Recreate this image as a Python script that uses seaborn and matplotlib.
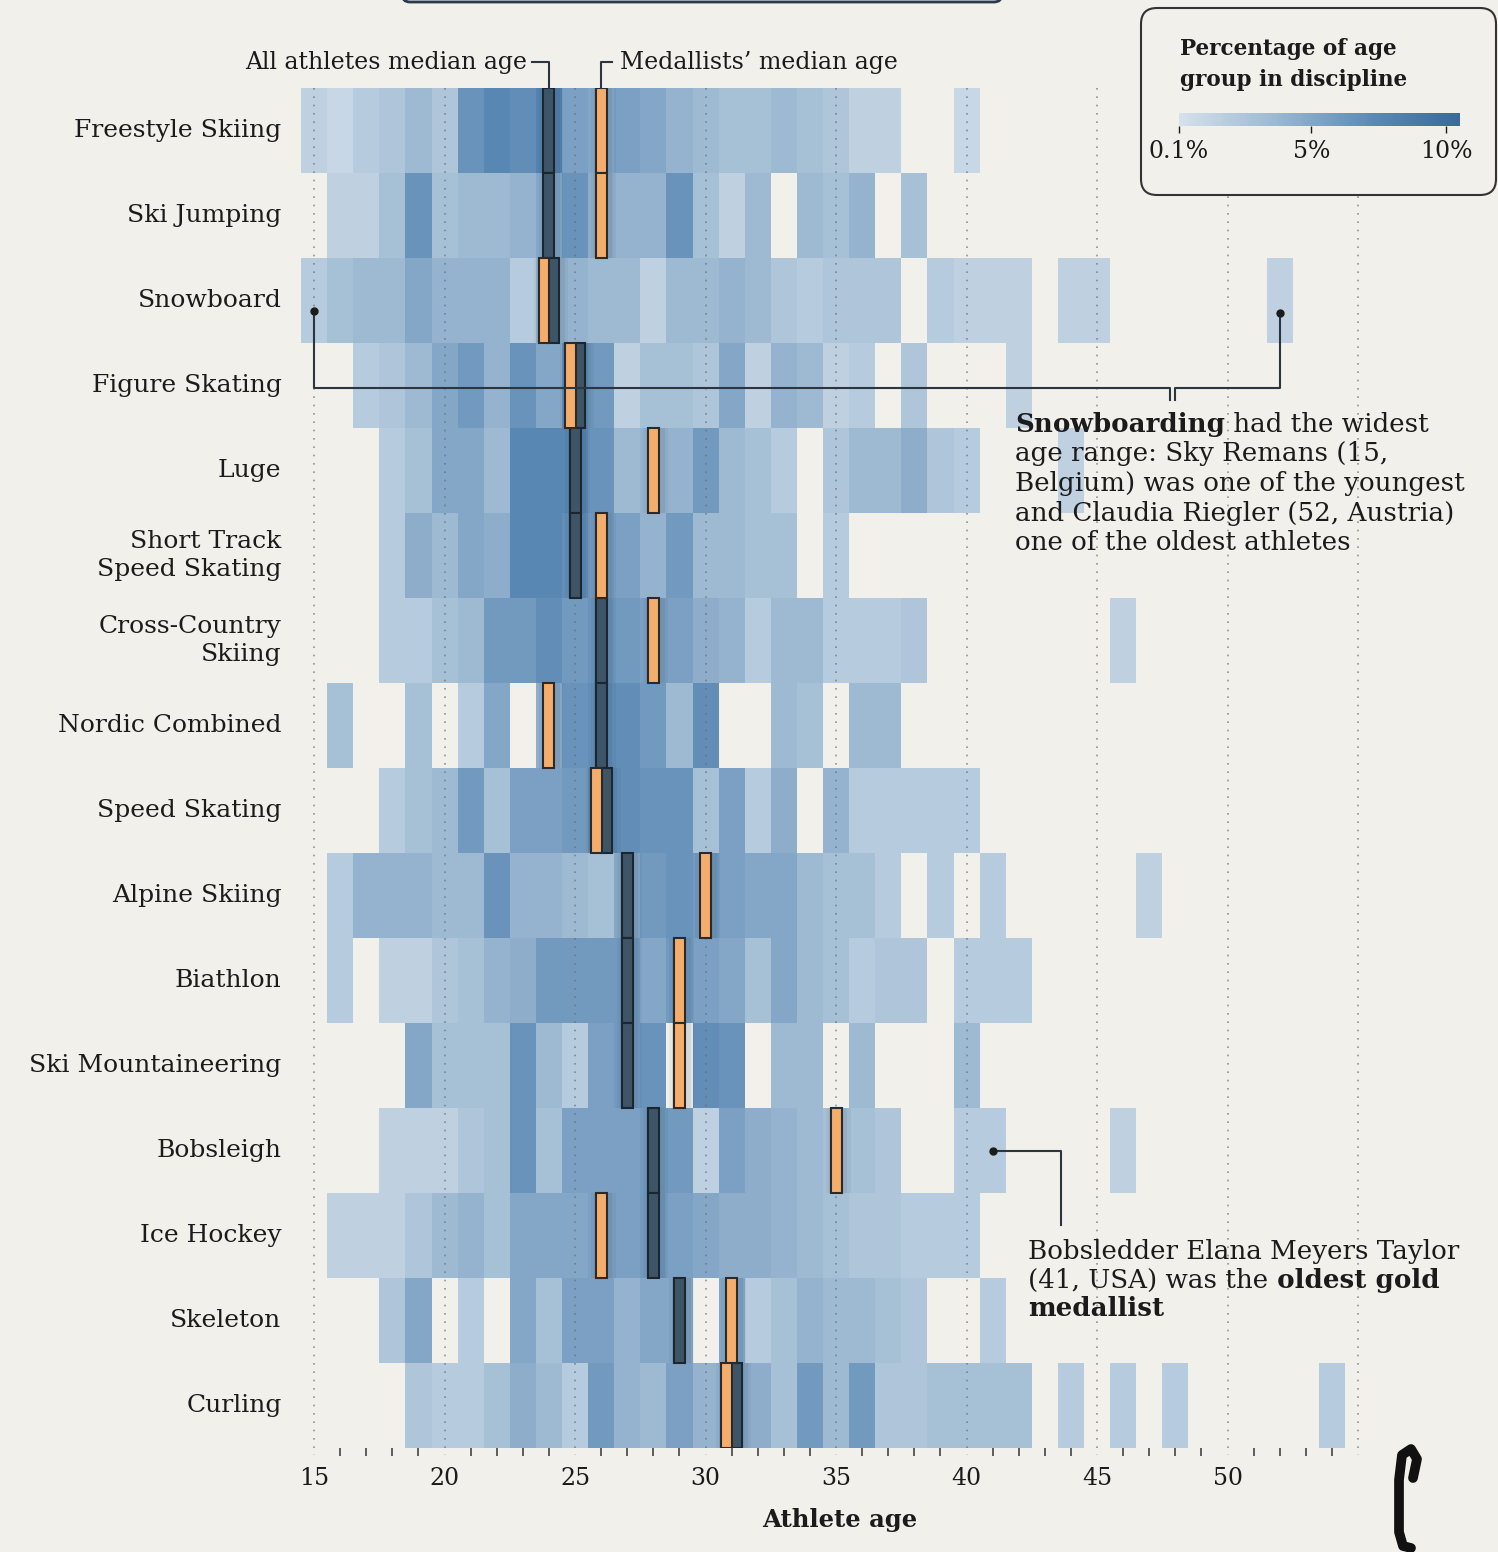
import numpy as np
import pandas as pd
import matplotlib.pyplot as plt
import seaborn as sns
import matplotlib.cm as cm
from matplotlib.colors import LinearSegmentedColormap, Normalize
from matplotlib.patches import FancyBboxPatch

# ---- data ----
disciplines = ["Freestyle Skiing", "Ski Jumping", "Snowboard", "Figure Skating", "Luge",
               "Short Track\nSpeed Skating", "Cross-Country\nSkiing", "Nordic Combined",
               "Speed Skating", "Alpine Skiing", "Biathlon", "Ski Mountaineering",
               "Bobsleigh", "Ice Hockey", "Skeleton", "Curling"]
ages = list(range(15, 55))

# percentage of athletes of each age per discipline (ages 15..54, 0 = nobody)
freestyle = [1.5, 1, 2, 2.5, 3.5, 2.5, 6.5, 7.5, 7, 8, 5.5, 5, 5.5, 5, 4, 3.5, 3, 3, 3.5, 3,
             2.5, 1.5, 1.5, 0, 0, 1, 0, 0, 0, 0, 0, 0, 0, 0, 0, 0, 0, 0, 0, 0]
ski_jumping = [0, 1.5, 1.5, 3, 6.5, 3, 3.5, 3.5, 4, 5, 6.5, 4.5, 4, 4, 6.5, 3, 1.5, 3.5, 0, 3.5,
               3, 4, 0, 3, 0, 0, 0, 0, 0, 0, 0, 0, 0, 0, 0, 0, 0, 0, 0, 0]
snowboard = [2, 3, 3.5, 3.5, 5, 4, 4, 4, 2, 4, 4, 3.5, 3.5, 1.5, 3.5, 3.5, 4, 3.5, 2.5, 2,
             2.5, 2.5, 2.5, 0, 2, 1.5, 1.5, 1.5, 0, 1.5, 1.5, 0, 0, 0, 0, 0, 0, 1.5, 0, 0]
figure_skating = [0, 0, 2, 2.5, 3.5, 5, 6, 4, 6.5, 5, 7, 6, 1.5, 3, 3, 2.5, 5, 1.5, 4, 3.5,
                  1.5, 2, 0, 2.5, 0, 0, 0, 1.5, 0, 0, 0, 0, 0, 0, 0, 0, 0, 0, 0, 0]
luge = [0, 0, 0, 2, 3, 5, 5, 3.5, 7.5, 7.5, 7.5, 6.5, 3.5, 4, 4, 6, 3.5, 3, 2, 0,
        2.5, 3.5, 3.5, 4.5, 2.5, 2, 0, 0, 0, 1.5, 0, 0, 0, 0, 0, 0, 0, 0, 0, 0]
short_track = [0, 0, 0, 2, 4.5, 3.5, 5, 4.5, 7.5, 7.5, 7, 6, 5.5, 4, 6, 3.5, 3.5, 3, 3, 0,
               2, 0, 0, 0, 0, 0, 0, 0, 0, 0, 0, 0, 0, 0, 0, 0, 0, 0, 0, 0]
cross_country = [0, 0, 0, 2, 2, 3, 3.5, 6, 6, 7, 6, 6.5, 6, 5.5, 5.5, 4.5, 4, 2, 3.5, 3.5,
                 2, 2, 2, 2.5, 0, 0, 0, 0, 0, 0, 0, 1.5, 0, 0, 0, 0, 0, 0, 0, 0]
nordic_combined = [0, 3, 0, 0, 3, 0, 2, 5, 0, 4.5, 6.5, 7, 7, 6, 3.5, 7, 0, 0, 3.5, 3,
                   0, 3.5, 3.5, 0, 0, 0, 0, 0, 0, 0, 0, 0, 0, 0, 0, 0, 0, 0, 0, 0]
speed_skating = [0, 0, 0, 2, 3, 3.5, 6, 3, 5.5, 5.5, 6, 7, 7, 6.5, 6.5, 3, 5.5, 2, 4.5, 0,
                 4, 2, 2, 2, 2, 2, 0, 0, 0, 0, 0, 0, 0, 0, 0, 0, 0, 0, 0, 0]
alpine = [0, 2, 4, 4, 4, 3.5, 3.5, 6.5, 4, 4, 3.5, 3, 5, 6, 6.5, 6, 5.5, 5, 5, 3.5,
          3, 3, 2, 0, 2, 0, 2, 0, 0, 0, 0, 0, 1.5, 0, 0, 0, 0, 0, 0, 0]
biathlon = [0, 2, 0, 1.5, 1.5, 2.5, 3, 4, 4.5, 6, 6, 6, 6, 5, 6, 5.5, 5, 3, 5, 3.5,
            3, 2, 2.5, 2.5, 0, 2, 2, 2, 0, 0, 0, 0, 0, 0, 0, 0, 0, 0, 0, 0]
ski_mountaineering = [0, 0, 0, 0, 5, 3, 3, 3, 6.5, 3.5, 2, 5.5, 6, 6.5, 0, 7, 6.5, 0, 3.5, 3.5,
                      0, 3.5, 0, 0, 0, 3.5, 0, 0, 0, 0, 0, 0, 0, 0, 0, 0, 0, 0, 0, 0]
bobsleigh = [0, 0, 0, 1.5, 1.5, 1.5, 2.5, 3, 6.5, 3, 5.5, 5.5, 5.5, 6, 6, 1.5, 5.5, 4.5, 4, 3.5,
             3, 3, 2.5, 0, 0, 2, 2, 0, 0, 0, 0, 1.5, 0, 0, 0, 0, 0, 0, 0, 0]
ice_hockey = [0, 1.5, 1.5, 1.5, 2.5, 3.5, 4, 3, 5, 5, 5, 5.5, 5.5, 6, 5.5, 5, 4.5, 4.5, 4, 3.5,
              3, 2.5, 2.5, 2, 2, 2, 0, 0, 0, 0, 0, 0, 0, 0, 0, 0, 0, 0, 0, 0]
skeleton = [0, 0, 0, 2.5, 5, 0, 2, 0, 5, 3, 5.5, 5.5, 4, 5, 5, 0, 5, 2, 3, 4,
            3.5, 3.5, 3, 2.5, 0, 0, 2, 0, 0, 0, 0, 0, 0, 0, 0, 0, 0, 0, 0, 0]
curling = [0, 0, 0, 0, 2.5, 2, 2, 3, 4.5, 3.5, 2, 6, 4, 3.5, 5.5, 4, 5, 4.5, 3, 6,
           3.5, 6, 2.5, 2.5, 3, 3, 3, 3, 0, 2, 0, 2, 0, 2, 0, 0, 0, 0, 0, 2]

median_all = [24, 24, 24, 25, 25, 25, 26, 26, 26, 27, 27, 27, 28, 28, 29, 31]
median_medal = [26, 26, 24, 25, 28, 26, 28, 24, 26, 30, 29, 29, 35, 26, 31, 31]

rows = [freestyle, ski_jumping, snowboard, figure_skating, luge, short_track, cross_country,
        nordic_combined, speed_skating, alpine, biathlon, ski_mountaineering, bobsleigh,
        ice_hockey, skeleton, curling]
df = pd.DataFrame(rows, index=disciplines, columns=ages).replace(0, np.nan)

# ---- style ----
BG = "#f2f0eb"
INK = "#1b1b1b"
DARK = "#3e5568"
EDGE = "#1b2631"
ORANGE = "#f5ad6c"
cmap = LinearSegmentedColormap.from_list(
    "blues", [(0, "#d6e1eb"), (0.35, "#9ab7d1"), (0.7, "#5a88b4"), (1, "#3a6a99")])
VMIN, VMAX = 0.1, 10.5

plt.rcParams["font.family"] = ["DejaVu Serif"]

W, H = 1498, 1552
fig = plt.figure(figsize=(W / 100, H / 100), dpi=100, facecolor=BG)

# heatmap axes: one year = 26.1 px, one row = 85 px
ax = fig.add_axes([301 / W, 1 - 1448 / H, (W - 301) / W, 1360 / H])
ax.set_facecolor(BG)
sns.heatmap(df, ax=ax, cmap=cmap, vmin=VMIN, vmax=VMAX, cbar=False, linewidths=0)
ax.set_xlim(0, (W - 301) / 26.1)
ax.set_ylim(len(disciplines), 0)
ax.set_xlabel("")
ax.set_ylabel("")
for s in ax.spines.values():
    s.set_visible(False)

# dotted guide lines every 5 years
grid_ages = list(range(15, 60, 5))
ax.vlines([a - 14.5 for a in grid_ages], 0, 16.08, colors="#6a6a6a",
          linestyles=(0, (1, 4)), lw=1.2, alpha=0.7, zorder=3, clip_on=False)

# median markers
n = len(disciplines)
x_all = np.array(median_all, float) - 14.5
x_med = np.array(median_medal, float) - 14.5
same = np.array(median_all) == np.array(median_medal)
x_all = x_all + np.where(same, 0.19, 0)
x_med = x_med - np.where(same, 0.19, 0)
for xs in (x_all, x_med):
    for w, al in ((0.95, 0.05), (0.7, 0.08)):
        ax.bar(xs + 0.08, 1, bottom=np.arange(n), width=w, color="#1d3347", alpha=al,
               lw=0, zorder=3.5)
ax.bar(x_all, 1, bottom=np.arange(n), width=0.42, color=DARK, edgecolor=EDGE, lw=1.5, zorder=4)
ax.bar(x_med, 1, bottom=np.arange(n), width=0.42, color=ORANGE, edgecolor="#2a2a2a", lw=1.5, zorder=5)

# ticks
ax.set_yticks(np.arange(n) + 0.5)
ax.set_yticklabels(disciplines, rotation=0, fontsize=18, color=INK, ha="right", va="center",
                   linespacing=1.3)
ax.tick_params(axis="y", length=0, pad=14)
ax.set_xticks([a - 14.5 for a in range(15, 55, 5)])
ax.set_xticklabels([str(a) for a in range(15, 55, 5)], rotation=0, fontsize=17, color=INK)
ax.set_xticks([a - 14.5 for a in range(16, 55) if a % 5], minor=True)
ax.tick_params(axis="x", which="major", length=0, pad=14)
ax.tick_params(axis="x", which="minor", length=6, width=1.2, color="#444444")

# connectors in data coords
lk = dict(color="#2b3640", lw=1.5, clip_on=False, zorder=6)
ax.plot([8.85, 9.5, 9.5], [-0.306, -0.306, 0], **lk)
ax.plot([11.5, 11.5, 11.9], [0, -0.306, -0.306], **lk)
ax.plot([0.5, 0.5, 33.3, 33.3], [2.62, 3.53, 3.53, 3.67], **lk)
ax.plot([33.5, 33.5, 37.5, 37.5], [3.67, 3.53, 3.53, 2.65], **lk)
ax.plot([0.5, 37.5], [2.62, 2.65], "o", color=INK, ms=5, clip_on=False, zorder=7)
ax.plot([26.5, 29.1, 29.1], [12.5, 12.5, 13.38], **lk)
ax.plot([26.5], [12.5], "o", color=INK, ms=5, clip_on=False, zorder=7)

# overlay in pixel coords for text and legend
ov = fig.add_axes([0, 0, 1, 1], zorder=10)
ov.set_xlim(0, W)
ov.set_ylim(H, 0)
ov.axis("off")
ov.patch.set_alpha(0)

ov.text(527, 62, "All athletes median age", ha="right", va="center", fontsize=17, color=INK)
ov.text(620, 62, "Medallists\u2019 median age", ha="left", va="center", fontsize=17, color=INK)
ov.text(840, 1520, "Athlete age", ha="center", va="center", fontsize=17.5, weight="bold", color=INK)

# snowboard note
fs = 18.8
t = ov.text(1015, 432, "Snowboarding", fontsize=fs, weight="bold", color=INK, va="baseline")
ov.annotate(" had the widest", xy=(1, 0), xycoords=t, va="bottom", fontsize=fs, color=INK)
for yb, line in zip([461, 491, 521, 550], ["age range: Sky Remans (15,",
                                           "Belgium) was one of the youngest",
                                           "and Claudia Riegler (52, Austria)",
                                           "one of the oldest athletes"]):
    ov.text(1015, yb, line, fontsize=fs, color=INK, va="baseline")

# bobsleigh note
ov.text(1028, 1259, "Bobsledder Elana Meyers Taylor", fontsize=fs, color=INK, va="baseline")
t2 = ov.text(1028, 1288, "(41, USA) was the", fontsize=fs, color=INK, va="baseline")
ov.annotate(" oldest gold", xy=(1, 0), xycoords=t2, va="bottom", fontsize=fs, weight="bold", color=INK)
ov.text(1028, 1316, "medallist", fontsize=fs, weight="bold", color=INK, va="baseline")

# legend box
ov.add_patch(FancyBboxPatch((1141, 8), 355, 187, boxstyle="round,pad=0,rounding_size=16",
                            fc=BG, ec="#333333", lw=1.5, zorder=1))
ov.text(1180, 55, "Percentage of age", fontsize=15.5, weight="bold", color=INK, va="baseline")
ov.text(1180, 86, "group in discipline", fontsize=15.5, weight="bold", color=INK, va="baseline")
cax = fig.add_axes([1179 / W, 1 - 126 / H, 281 / W, 13 / H], zorder=11)
cb = fig.colorbar(cm.ScalarMappable(norm=Normalize(VMIN, VMAX), cmap=cmap), cax=cax,
                  orientation="horizontal")
cb.outline.set_visible(False)
cb.set_ticks([0.1, 5, 10])
cb.set_ticklabels(["0.1%", "5%", "10%"])
cax.tick_params(length=5, width=1, labelsize=17, pad=5, colors=INK)

# top box remnant and logo
ov.add_patch(FancyBboxPatch((402, -40), 600, 42, boxstyle="round,pad=0,rounding_size=8",
                            fc="#dfe8f0", ec="#2a3a4a", lw=2))
ov.plot([1413, 1417, 1411, 1402, 1399, 1399, 1403, 1411],
        [1478, 1459, 1449, 1455, 1480, 1532, 1546, 1548], color="#111111", lw=7,
        solid_capstyle="round", solid_joinstyle="round")

fig.savefig("out.png", dpi=100, facecolor=BG)
